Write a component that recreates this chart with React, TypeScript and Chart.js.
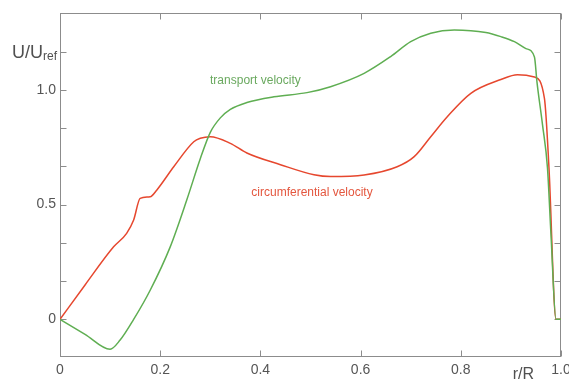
import React, { useEffect, useRef } from "react";
import { Chart, registerables } from "chart.js";

Chart.register(...registerables);

// transport velocity (green)
const transportR = [0, 0.05, 0.1, 0.12, 0.147, 0.18, 0.22, 0.253, 0.28, 0.3, 0.32, 0.34, 0.373, 0.427, 0.493, 0.54, 0.607, 0.66, 0.7, 0.74, 0.787, 0.85, 0.88, 0.907, 0.93, 0.947, 0.952, 0.963, 0.973, 0.98, 0.99, 1.0];
const transportV = [0, -0.065, -0.13, -0.09, 0.0, 0.127, 0.316, 0.52, 0.7, 0.815, 0.878, 0.915, 0.945, 0.97, 0.988, 1.014, 1.072, 1.145, 1.21, 1.247, 1.261, 1.25, 1.232, 1.21, 1.18, 1.143, 1.035, 0.85, 0.66, 0.37, 0, 0];

// circumferential velocity (red)
const circR = [0, 0.05, 0.107, 0.133, 0.147, 0.16, 0.18, 0.193, 0.227, 0.267, 0.28, 0.3, 0.34, 0.373, 0.44, 0.507, 0.54, 0.607, 0.673, 0.707, 0.74, 0.773, 0.82, 0.88, 0.913, 0.947, 0.967, 0.976, 0.99, 1.0];
const circV = [0, 0.15, 0.316, 0.375, 0.433, 0.527, 0.534, 0.563, 0.665, 0.774, 0.789, 0.796, 0.767, 0.725, 0.674, 0.63, 0.622, 0.629, 0.665, 0.709, 0.796, 0.883, 0.985, 1.045, 1.066, 1.056, 0.962, 0.66, 0, 0];

// axis ticks
const xTickValues = [0, 0.2, 0.4, 0.6, 0.8, 1.0];
const xTickLabels = ["0", "0.2", "0.4", "0.6", "0.8", "1.0"];
const yTickValues = [0, 1 / 6, 2 / 6, 0.5, 4 / 6, 5 / 6, 1.0, 7 / 6];
const yTickLabels = ["0", "", "", "0.5", "", "", "1.0", ""];

// curve annotations
const curveLabels = ["transport velocity", "circumferential velocity"];
const curveLabelR = [0.39, 0.503];
const curveLabelV = [1.04, 0.552];

const GREEN = "#5fae52";
const RED = "#e6472e";
const FONT = "'Liberation Sans', Arial, Helvetica, sans-serif";

const framePlugin = {
  id: "frameTicks",
  beforeDatasetsDraw(chart: any) {
    const { ctx, chartArea, scales } = chart;
    const l = Math.round(chartArea.left) + 0.5;
    const r = Math.round(chartArea.right) - 0.5;
    const t = Math.round(chartArea.top) + 0.5;
    const b = Math.round(chartArea.bottom) - 0.5;
    ctx.save();
    ctx.strokeStyle = "#8c8c8c";
    ctx.lineWidth = 1;
    ctx.strokeRect(l, t, r - l, b - t);
    const tl = 6;
    ctx.beginPath();
    for (const v of xTickValues) {
      const px = Math.round(scales.x.getPixelForValue(v)) + 0.5;
      ctx.moveTo(px, b);
      ctx.lineTo(px, b - tl);
      ctx.moveTo(px, t);
      ctx.lineTo(px, t + tl);
    }
    for (const v of yTickValues) {
      const py = Math.round(scales.y.getPixelForValue(v)) + 0.5;
      ctx.moveTo(l, py);
      ctx.lineTo(l + tl, py);
      ctx.moveTo(r, py);
      ctx.lineTo(r - tl, py);
    }
    ctx.stroke();
    ctx.restore();
  },
  afterDraw(chart: any) {
    const { ctx, chartArea, scales } = chart;
    ctx.save();
    ctx.font = `12px ${FONT}`;
    ctx.textAlign = "center";
    ctx.textBaseline = "middle";
    const cols = ["#6aa95f", "#e4573f"];
    curveLabels.forEach((s, i) => {
      ctx.fillStyle = cols[i];
      ctx.fillText(s, scales.x.getPixelForValue(curveLabelR[i]), scales.y.getPixelForValue(curveLabelV[i]));
    });
    const yy = scales.y.getPixelForValue(7 / 6);
    ctx.fillStyle = "#505050";
    ctx.textAlign = "left";
    ctx.textBaseline = "alphabetic";
    ctx.font = `18px ${FONT}`;
    const wMain = ctx.measureText("U/U").width;
    ctx.font = `12px ${FONT}`;
    const wSub = ctx.measureText("ref").width;
    const x0 = chartArea.left - 3 - wMain - wSub;
    ctx.font = `18px ${FONT}`;
    ctx.fillText("U/U", x0, yy + 6);
    ctx.font = `12px ${FONT}`;
    ctx.fillText("ref", x0 + wMain, yy + 8);
    ctx.font = `16px ${FONT}`;
    ctx.textAlign = "center";
    ctx.textBaseline = "middle";
    ctx.fillText("r/R", scales.x.getPixelForValue(0.925), chartArea.bottom + 18);
    ctx.restore();
  },
};

export default function App() {
  const ref = useRef<HTMLCanvasElement | null>(null);
  useEffect(() => {
    if (!ref.current) return;
    const chart = new Chart(ref.current, {
      type: "line",
      data: {
        datasets: [
          {
            label: "transport velocity",
            data: transportR.map((r, i) => ({ x: r, y: transportV[i] })),
            borderColor: GREEN,
            borderWidth: 1.5,
            pointRadius: 0,
            cubicInterpolationMode: "monotone",
            fill: false,
          },
          {
            label: "circumferential velocity",
            data: circR.map((r, i) => ({ x: r, y: circV[i] })),
            borderColor: RED,
            borderWidth: 1.5,
            pointRadius: 0,
            cubicInterpolationMode: "monotone",
            fill: false,
          },
        ],
      },
      options: {
        responsive: false,
        animation: false,
        layout: { padding: { top: 13, right: 8, left: 0, bottom: 0 } },
        plugins: { legend: { display: false }, tooltip: { enabled: false } },
        scales: {
          x: {
            type: "linear",
            min: 0,
            max: 1,
            grid: { display: false, drawTicks: false },
            border: { display: false },
            afterBuildTicks: (s: any) => {
              s.ticks = xTickValues.map((v) => ({ value: v }));
            },
            ticks: {
              padding: 5,
              color: "#555",
              font: { family: FONT, size: 14 },
              maxRotation: 0,
              autoSkip: false,
              callback: (v: any) => {
                const i = xTickValues.findIndex((t) => Math.abs(t - v) < 1e-6);
                return i >= 0 ? xTickLabels[i] : "";
              },
            },
            afterFit: (s: any) => {
              s.height = 28;
              s.paddingLeft = 0;
              s.paddingRight = 0;
            },
          },
          y: {
            type: "linear",
            min: -0.164,
            max: 1.335,
            grid: { display: false, drawTicks: false },
            border: { display: false },
            afterBuildTicks: (s: any) => {
              s.ticks = yTickValues.map((v) => ({ value: v }));
            },
            ticks: {
              padding: 4,
              color: "#555",
              font: { family: FONT, size: 14 },
              autoSkip: false,
              callback: (v: any) => {
                const i = yTickValues.findIndex((t) => Math.abs(t - v) < 1e-6);
                return i >= 0 ? yTickLabels[i] : "";
              },
            },
            afterFit: (s: any) => {
              s.width = 60;
              s.paddingTop = 0;
              s.paddingBottom = 0;
            },
          },
        },
      },
      plugins: [framePlugin],
    } as any);
    return () => chart.destroy();
  }, []);
  return (
    <div style={{ position: "absolute", left: 0, top: 0, width: 569, height: 385, background: "#fff" }}>
      <canvas ref={ref} width={569} height={385} style={{ display: "block" }} />
    </div>
  );
}
